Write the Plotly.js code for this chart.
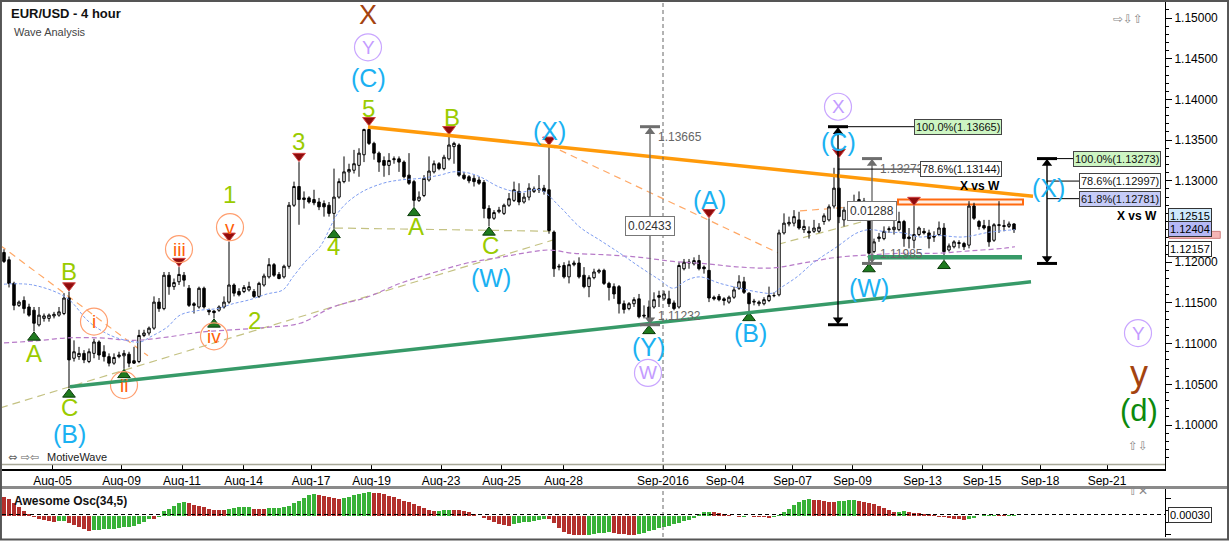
<!DOCTYPE html>
<html><head><meta charset="utf-8">
<script src="https://cdn.plot.ly/plotly-3.0.1.min.js"></script>
<style>html,body{margin:0;padding:0;background:#fff;}#chart{width:1229px;height:541px;}</style>
</head><body><div id="chart"></div>
<script>
// ---------- DATA (EUR/USD 4-hour bars) ----------
const openP = [1.1212,1.1203,1.1174,1.1147,1.1153,1.1145,1.1141,1.1123,1.1131,1.1131,
1.1134,1.1135,1.1137,1.1156,1.1082,1.1084,1.1088,1.1078,1.1088,1.1102,
1.1090,1.1084,1.1076,1.1084,1.1085,1.1087,1.1079,1.1078,1.1110,1.1113,
1.1119,1.1151,1.1143,1.1184,1.1170,1.1176,1.1184,1.1168,1.1149,1.1145,
1.1168,1.1141,1.1140,1.1141,1.1145,1.1151,1.1172,1.1164,1.1164,1.1166,
1.1164,1.1158,1.1172,1.1182,1.1197,1.1185,1.1182,1.1195,1.1270,1.1293,
1.1279,1.1279,1.1277,1.1274,1.1272,1.1270,1.1260,1.1280,1.1299,1.1311,
1.1313,1.1319,1.1332,1.1363,1.1346,1.1334,1.1325,1.1319,1.1326,1.1327,
1.1323,1.1307,1.1299,1.1276,1.1282,1.1301,1.1311,1.1321,1.1315,1.1327,
1.1342,1.1344,1.1307,1.1305,1.1303,1.1301,1.1298,1.1266,1.1254,1.1262,
1.1260,1.1270,1.1276,1.1287,1.1274,1.1280,1.1287,1.1289,1.1291,1.1289,
1.1237,1.1194,1.1196,1.1182,1.1197,1.1199,1.1184,1.1170,1.1181,1.1188,
1.1190,1.1174,1.1170,1.1170,1.1149,1.1143,1.1149,1.1155,1.1135,1.1145,
1.1145,1.1159,1.1155,1.1155,1.1150,1.1145,1.1192,1.1199,1.1198,1.1202,
1.1194,1.1190,1.1157,1.1158,1.1155,1.1151,1.1157,1.1168,1.1176,1.1162,
1.1151,1.1149,1.1149,1.1153,1.1159,1.1160,1.1236,1.1247,1.1248,1.1252,
1.1240,1.1238,1.1238,1.1238,1.1250,1.1252,1.1269,1.1291,1.1252,1.1256,
1.1269,1.1269,1.1275,1.1256,1.1213,1.1229,1.1229,1.1240,1.1240,1.1240,
1.1250,1.1231,1.1227,1.1234,1.1238,1.1236,1.1232,1.1234,1.1242,1.1215,
1.1219,1.1223,1.1223,1.1221,1.1269,1.1250,1.1245,1.1244,1.1227,1.1245,
1.1245,1.1244,1.1247];
const highP = [1.1216,1.1207,1.1176,1.1153,1.1158,1.1149,1.1145,1.1145,1.1137,1.1137,
1.1139,1.1145,1.1162,1.1164,1.1104,1.1096,1.1092,1.1094,1.1106,1.1104,
1.1098,1.1088,1.1088,1.1090,1.1092,1.1090,1.1096,1.1117,1.1117,1.1121,
1.1158,1.1156,1.1188,1.1188,1.1180,1.1194,1.1188,1.1172,1.1151,1.1170,
1.1170,1.1143,1.1141,1.1147,1.1158,1.1225,1.1174,1.1168,1.1172,1.1176,
1.1167,1.1176,1.1186,1.1205,1.1199,1.1188,1.1197,1.1274,1.1299,1.1323,
1.1287,1.1281,1.1289,1.1279,1.1276,1.1274,1.1315,1.1303,1.1330,1.1321,
1.1338,1.1340,1.1364,1.1367,1.1348,1.1336,1.1330,1.1334,1.1330,1.1330,
1.1325,1.1334,1.1301,1.1287,1.1307,1.1330,1.1325,1.1323,1.1332,1.1356,
1.1348,1.1346,1.1311,1.1307,1.1307,1.1305,1.1301,1.1270,1.1264,1.1268,
1.1272,1.1285,1.1299,1.1297,1.1285,1.1297,1.1293,1.1307,1.1295,1.1343,
1.1239,1.1198,1.1200,1.1202,1.1202,1.1206,1.1194,1.1184,1.1192,1.1192,
1.1192,1.1176,1.1174,1.1172,1.1153,1.1151,1.1157,1.1161,1.1147,1.1153,
1.1163,1.1165,1.1165,1.1165,1.1153,1.1200,1.1204,1.1204,1.1206,1.1209,
1.1196,1.1254,1.1159,1.1161,1.1157,1.1159,1.1170,1.1184,1.1182,1.1163,
1.1155,1.1153,1.1157,1.1170,1.1163,1.1240,1.1260,1.1256,1.1264,1.1262,
1.1252,1.1244,1.1252,1.1248,1.1260,1.1271,1.1316,1.1328,1.1268,1.1275,
1.1283,1.1287,1.1279,1.1260,1.1229,1.1236,1.1244,1.1244,1.1252,1.1262,
1.1252,1.1242,1.1269,1.1244,1.1242,1.1240,1.1238,1.1250,1.1248,1.1223,
1.1227,1.1227,1.1225,1.1275,1.1273,1.1252,1.1252,1.1252,1.1248,1.1275,
1.1252,1.1250,1.1248];
const lowP = [1.1199,1.1169,1.1141,1.1145,1.1137,1.1133,1.1115,1.1121,1.1127,1.1127,
1.1131,1.1133,1.1135,1.1045,1.1078,1.1080,1.1076,1.1076,1.1082,1.1080,
1.1078,1.1072,1.1074,1.1082,1.1069,1.1071,1.1075,1.1076,1.1108,1.1110,
1.1117,1.1139,1.1141,1.1160,1.1166,1.1172,1.1170,1.1145,1.1137,1.1143,
1.1143,1.1135,1.1131,1.1139,1.1143,1.1149,1.1158,1.1158,1.1162,1.1164,
1.1156,1.1156,1.1170,1.1180,1.1182,1.1179,1.1180,1.1192,1.1268,1.1246,
1.1266,1.1272,1.1270,1.1264,1.1256,1.1256,1.1241,1.1278,1.1297,1.1299,
1.1309,1.1305,1.1323,1.1344,1.1326,1.1311,1.1305,1.1307,1.1321,1.1311,
1.1303,1.1295,1.1268,1.1274,1.1280,1.1299,1.1309,1.1313,1.1313,1.1325,
1.1321,1.1305,1.1301,1.1297,1.1293,1.1295,1.1254,1.1244,1.1252,1.1260,
1.1258,1.1268,1.1274,1.1270,1.1272,1.1276,1.1285,1.1285,1.1283,1.1235,
1.1182,1.1190,1.1180,1.1174,1.1195,1.1180,1.1168,1.1157,1.1179,1.1186,
1.1172,1.1153,1.1155,1.1137,1.1137,1.1141,1.1145,1.1131,1.1131,1.1123,
1.1143,1.1145,1.1153,1.1145,1.1141,1.1143,1.1190,1.1192,1.1196,1.1190,
1.1186,1.1151,1.1153,1.1152,1.1147,1.1149,1.1155,1.1166,1.1161,1.1139,
1.1147,1.1146,1.1147,1.1151,1.1157,1.1158,1.1234,1.1244,1.1244,1.1240,
1.1236,1.1229,1.1236,1.1236,1.1246,1.1250,1.1266,1.1248,1.1244,1.1254,
1.1266,1.1266,1.1252,1.1199,1.1211,1.1225,1.1227,1.1236,1.1234,1.1238,
1.1219,1.1217,1.1217,1.1232,1.1234,1.1217,1.1225,1.1232,1.1203,1.1213,
1.1217,1.1217,1.1215,1.1217,1.1252,1.1240,1.1240,1.1219,1.1225,1.1236,
1.1238,1.1242,1.1236];
const closeP = [1.1201,1.1174,1.1147,1.1151,1.1143,1.1135,1.1125,1.1135,1.1134,1.1135,
1.1136,1.1139,1.1156,1.1080,1.1090,1.1088,1.1080,1.1090,1.1102,1.1086,
1.1084,1.1076,1.1083,1.1086,1.1088,1.1076,1.1076,1.1110,1.1113,1.1119,
1.1151,1.1143,1.1184,1.1170,1.1175,1.1185,1.1178,1.1147,1.1147,1.1168,
1.1145,1.1139,1.1138,1.1145,1.1151,1.1172,1.1162,1.1160,1.1169,1.1170,
1.1158,1.1174,1.1183,1.1197,1.1184,1.1180,1.1195,1.1270,1.1293,1.1277,
1.1277,1.1274,1.1273,1.1268,1.1268,1.1260,1.1280,1.1299,1.1311,1.1314,
1.1321,1.1334,1.1363,1.1346,1.1334,1.1323,1.1319,1.1325,1.1327,1.1323,
1.1305,1.1297,1.1276,1.1280,1.1303,1.1312,1.1321,1.1315,1.1329,1.1344,
1.1346,1.1307,1.1303,1.1300,1.1299,1.1297,1.1266,1.1254,1.1261,1.1264,
1.1270,1.1278,1.1289,1.1274,1.1280,1.1291,1.1290,1.1290,1.1287,1.1239,
1.1192,1.1195,1.1182,1.1197,1.1199,1.1182,1.1170,1.1181,1.1188,1.1190,
1.1174,1.1169,1.1161,1.1149,1.1142,1.1149,1.1154,1.1133,1.1134,1.1129,
1.1154,1.1157,1.1161,1.1149,1.1143,1.1196,1.1200,1.1200,1.1202,1.1192,
1.1192,1.1156,1.1155,1.1154,1.1153,1.1157,1.1166,1.1176,1.1163,1.1149,
1.1152,1.1151,1.1154,1.1159,1.1159,1.1236,1.1248,1.1249,1.1256,1.1242,
1.1244,1.1236,1.1242,1.1243,1.1257,1.1268,1.1291,1.1256,1.1264,1.1270,
1.1273,1.1277,1.1256,1.1211,1.1225,1.1231,1.1238,1.1241,1.1243,1.1250,
1.1229,1.1229,1.1234,1.1242,1.1236,1.1229,1.1231,1.1242,1.1213,1.1220,
1.1225,1.1224,1.1219,1.1269,1.1254,1.1244,1.1242,1.1225,1.1246,1.1246,
1.1244,1.1247,1.1240];
// Awesome Oscillator (34,5), one value per bar
const aoValues = [0.0039,0.0034,0.0026,0.0018,0.0010,0.0004,-0.0002,-0.0005,-0.0007,-0.0009,
-0.0011,-0.00104,-0.00096,-0.0014,-0.0018,-0.0022,-0.0026,-0.00296,-0.00286,-0.00276,
-0.00268,-0.0026,-0.0025,-0.0024,-0.00228,-0.00212,-0.00192,-0.00168,-0.0012,-0.00056,
-0.00064,-0.00016,0.00094,0.0014,0.00208,0.00256,0.00276,0.00256,0.00228,0.00202,
0.00176,0.00142,0.00128,0.00122,0.0012,0.00142,0.00162,0.00176,0.00188,0.0019,
0.00148,0.00146,0.00144,0.00162,0.00164,0.00166,0.00176,0.00208,0.00256,0.0031,
0.00364,0.00418,0.00444,0.00424,0.00398,0.00378,0.00356,0.00344,0.00364,0.0039,
0.00418,0.00444,0.00458,0.00472,0.00464,0.00458,0.00438,0.0041,0.00378,0.00344,
0.0031,0.00276,0.00242,0.00202,0.00154,0.00122,0.00094,0.001,0.00114,0.00128,
0.00122,0.00114,0.001,0.0008,0.00048,-0.00004,-0.0004,-0.0008,-0.00122,-0.00162,
-0.00188,-0.00196,-0.00168,-0.00148,-0.00128,-0.00114,-0.00094,-0.00074,-0.00054,-0.00068,
-0.00148,-0.00242,-0.0031,-0.0035,-0.0037,-0.00384,-0.00386,-0.0037,-0.00356,-0.00344,
-0.00332,-0.0032,-0.0033,-0.0035,-0.00364,-0.00376,-0.0038,-0.00356,-0.0033,-0.00304,
-0.00276,-0.00248,-0.0022,-0.00192,-0.00164,-0.00136,-0.00104,-0.0007,-0.00036,0.00036,
0.00074,0.0009,0.00084,0.0006,0.0004,0.00016,-0.00004,-0.00024,-0.00016,-0.00008,
-0.00012,-0.0002,-0.00026,-0.00032,-0.0001,0.0003,0.0008,0.0015,0.0022,0.0028,
0.0032,0.00332,0.00324,0.00312,0.003,0.00288,0.0028,0.00292,0.00304,0.00312,
0.00314,0.003,0.00284,0.0026,0.00232,0.00196,0.0016,0.00124,0.00084,0.00088,
0.00092,0.00072,0.00064,0.00056,0.00048,0.00032,0.00016,-0.00012,-0.00028,-0.0004,
-0.00052,-0.00068,-0.00076,-0.0006,-0.0003,0.00006,0.0002,0.00024,0.00026,0.00024,
0.00022,0.00028,0.0003];
// date axis (bar-index position of each label)
const dateTickIdx = [9.7,23.5,35.6,47.9,61.4,73.5,87.4,99.5,111.9,131.8,144.2,157.7,169.7,183.7,195.6,207.2,220.6];
const dateTickText = ['Aug-05','Aug-09','Aug-11','Aug-14','Aug-17','Aug-19','Aug-23','Aug-25','Aug-28','Sep-2016','Sep-04','Sep-07','Sep-09','Sep-13','Sep-15','Sep-18','Sep-21'];
const priceTicks = [1.10,1.105,1.11,1.115,1.12,1.125,1.13,1.135,1.14,1.145,1.15];
// moving averages (read at points)
const maBlueIdx = [0,5.8,12.6,16.6,19.2,22.6,27.2,29.2,32.6,35.2,39.2,42.6,45.8,49.2,52.6,55.8,57.8,60.6,63.2,67.2,71.2,75.8,79.2,83.2,87.2,89.8,92.6,95.2,99.2,103.2,107.2,111.2,115.2,119.2,123.2,127.2,131.2,133.8,136.6,139.2,143.2,147.2,151.2,153.8,155.2,158.6,161.8,166.6,170.6,173.2,176.6,179.8,183.2,186.6,191.8,197.2,202.2];
const maBlue = [1.1173,1.1172,1.1156,1.1129,1.1117,1.1107,1.1102,1.1108,1.1120,1.1135,1.1141,1.1143,1.1149,1.1154,1.1161,1.1166,1.1182,1.1203,1.1219,1.1264,1.1285,1.1297,1.1301,1.1303,1.1307,1.1311,1.1310,1.1305,1.1292,1.1286,1.1289,1.1268,1.1243,1.1227,1.1211,1.1194,1.1178,1.1168,1.1178,1.1182,1.1174,1.1168,1.1163,1.1162,1.1168,1.1182,1.1199,1.1219,1.1236,1.1240,1.1237,1.1236,1.1231,1.1233,1.1231,1.1237,1.1240];
const maPurpleIdx = [0,5.8,12.6,19.2,25.8,32.6,39.2,45.8,52.6,59.2,65.8,72.6,79.2,85.8,92.6,99.2,105.8,109.2,113.8,120.6,127.2,133.8,140.6,147.2,153.8,159.8,166.6,173.2,179.8,186.6,193.2,199.8,202.2];
const maPurple = [1.1101,1.1103,1.1107,1.1107,1.1104,1.1108,1.1114,1.1117,1.1120,1.1125,1.1145,1.1157,1.1174,1.1187,1.1199,1.1206,1.1213,1.1215,1.1211,1.1209,1.1206,1.1201,1.1198,1.1194,1.1193,1.1199,1.1206,1.1209,1.1211,1.1211,1.1214,1.1217,1.1219];
// trend lines: [idx0, price0, idx1, price1]
const resistanceLine = [72.8,1.1366,205.8,1.1281];
const supportLine = [13.2,1.1047,205.4,1.1176];
const supportFlat = [172.8,1.1206,203.6,1.1206];
const khakiLines = [[-0.8,1.1021,110.2,1.1228],[66.2,1.1242,110.2,1.1238],[154.8,1.1222,173.6,1.1253]];
const orangeDashLines = [[-0.8,1.1221,28.8,1.1085],[109,1.1344,155,1.1211],[159.2,1.1263,169.6,1.1268]];
const resistanceZone = [178.8,1.1271,203.8,1.1277];
// pivots
const pivotHighIdx = [13,35,45,59,73,89,109,141,167,182];
const pivotLowIdx = [6,13,24,42,66,82,97,129,149,173,188];
// wave labels
const waveText = ['X','Y','(C)','5','3','1','2','4','A','B','C','(B)','A','B','C','(W)','(X)','(A)','(B)','(Y)','W','X','(C)','(W)','(X)','Y','y','(d)','i','ii','iii','iv','v'];
const waveIdx = [72.8,72.8,72.8,72.8,58.8,45,50,65.8,6,13,13,13,82.4,89.6,97.2,97.4,109,141,149.2,128.8,128.8,166.8,166.8,173,208.8,226.8,227,227,18,24,35,42,45.2];
const wavePrice = [1.1504,1.1464,1.1426,1.1389,1.1348,1.1283,1.1128,1.1219,1.1088,1.1188,1.1022,1.0989,1.1244,1.1378,1.1220,1.1181,1.1361,1.1276,1.1113,1.1096,1.1064,1.1391,1.1348,1.1168,1.1291,1.1113,1.1063,1.1018,1.1127,1.1049,1.1216,1.1109,1.1243];
const waveDegree = ['brown','purple','cyan','lime','lime','lime','lime','lime','lime','lime','lime','cyan','lime','lime','lime','cyan','cyan','cyan','cyan','cyan','purple','purple','cyan','cyan','cyan','purple','brownBig','dgreen','orange','orange','orange','orange','orange'];
// measuring tools
const measureIdx = [129.2,166.8,173.6,208.6];
const measureTop = [1.13665,1.13665,1.13273,1.13273];
const measureBottom = [1.11232,1.11232,1.11985,1.11985];
const measureDelta = ['0.02433','','0.01288',''];
const fibFromIdx = [166.8,166.8,208.6,208.6,208.6];
const fibToIdx = [182,183.2,213.8,215,215];
const fibPrice = [1.13665,1.13144,1.13273,1.12997,1.12781];
const fibText = ['100.0%(1.13665)','78.6%(1.13144)','100.0%(1.13273)','78.6%(1.12997)','61.8%(1.12781)'];
const fibKind = ['full','mid','full','mid','low'];
const lastClose = 1.12404, flagHigh = 1.12515, flagPink = 1.1233, flagLow = 1.12157, aoLast = 0.00030;

// ---------- BUILD ----------
const FONT = 'Liberation Sans, Arial, DejaVu Sans, sans-serif';
const barIdx = openP.map((_, k) => k);
const PX = 1 / 8140; // price per pixel on the main panel
const aoColors = aoValues.map((v, k) => (k > 0 && v > aoValues[k - 1]) ? '#38b238' : '#b3302c');

const traces = [];
traces.push({type:'scatter', mode:'lines', x:maPurpleIdx, y:maPurple, xaxis:'x', yaxis:'y', line:{color:'#b77ac8', width:1.2, dash:'5px,3px', shape:'spline'}, hoverinfo:'skip'});
traces.push({type:'scatter', mode:'lines', x:maBlueIdx, y:maBlue, xaxis:'x', yaxis:'y', line:{color:'#7d9cf0', width:1, dash:'3px,2px', shape:'spline'}, hoverinfo:'skip'});
traces.push({type:'candlestick', x:barIdx, open:openP, high:highP, low:lowP, close:closeP, xaxis:'x', yaxis:'y', whiskerwidth:0,
  increasing:{line:{color:'#000', width:1}, fillcolor:'#ffffff'},
  decreasing:{line:{color:'#000', width:1}, fillcolor:'#000000'}, hoverinfo:'skip'});
traces.push({type:'bar', x:barIdx, y:aoValues, xaxis:'x', yaxis:'y2', width:0.62, marker:{color:aoColors, line:{width:0}}, hoverinfo:'skip'});
// pivot markers
traces.push({type:'scatter', mode:'markers', x:pivotHighIdx, y:pivotHighIdx.map(k => highP[k] + 6 * PX), xaxis:'x', yaxis:'y',
  marker:{symbol:'triangle-down', size:11, color:'#8e0c0c', line:{color:'#d04040', width:1}}, hoverinfo:'skip'});
traces.push({type:'scatter', mode:'markers', x:pivotLowIdx, y:pivotLowIdx.map(k => lowP[k] - 6 * PX), xaxis:'x', yaxis:'y',
  marker:{symbol:'triangle-up', size:11, color:'#1f7a1f', line:{color:'#0a3a0a', width:1}}, hoverinfo:'skip'});

const degreeStyle = {
  brown:{color:'#a4430f', size:27}, brownBig:{color:'#a4430f', size:36},
  purple:{color:'#c49cff', size:19, circle:'#c9a6ff'}, cyan:{color:'#1bb1f2', size:25},
  lime:{color:'#9acb00', size:24}, orange:{color:'#ff5f0a', size:19, circle:'#ff9f70'},
  dgreen:{color:'#0d8a0d', size:31}
};
// circles around wave labels
['purple','orange'].forEach(dg => {
  const ks = waveDegree.map((d, k) => d === dg ? k : -1).filter(k => k >= 0);
  traces.push({type:'scatter', mode:'markers', x:ks.map(k => waveIdx[k]), y:ks.map(k => wavePrice[k]), xaxis:'x', yaxis:'y',
    marker:{symbol:'circle-open', size:27, color:degreeStyle[dg].circle, line:{width:1.2, color:degreeStyle[dg].circle}}, hoverinfo:'skip'});
});

const shapes = [];
const annotations = [];
const seg = (a, color, width, dash, layer) => ({type:'line', xref:'x', yref:'y', x0:a[0], y0:a[1], x1:a[2], y1:a[3], layer:layer || 'above', line:{color, width, dash:dash || 'solid'}});
khakiLines.forEach(a => shapes.push(seg(a, '#c4c283', 1.2, '8px,5px', 'below')));
orangeDashLines.forEach(a => shapes.push(seg(a, '#ffa866', 1.2, '7px,5px', 'below')));
shapes.push({type:'rect', xref:'x', yref:'y', x0:resistanceZone[0], x1:resistanceZone[2], y0:resistanceZone[1], y1:resistanceZone[3], layer:'below', fillcolor:'rgba(255,190,150,0.25)', line:{color:'#ff6a10', width:2}});
shapes.push(seg(resistanceLine, '#ff9a0a', 3.5));
shapes.push(seg(supportLine, '#379a68', 3.5));
shapes.push(seg(supportFlat, '#379a68', 4.5));
// session separator (Sep-2016)
const sepIdx = dateTickIdx[dateTickText.indexOf('Sep-2016')];
shapes.push({type:'line', xref:'x', yref:'y domain', x0:sepIdx, x1:sepIdx, y0:0, y1:1, line:{color:'#666', width:1, dash:'4px,3px'}});
shapes.push({type:'line', xref:'x', yref:'y2 domain', x0:sepIdx, x1:sepIdx, y0:0, y1:1, line:{color:'#666', width:1, dash:'4px,3px'}});
// measuring tools
measureIdx.forEach((xi, k) => {
  const col = (k % 2 === 0) ? '#6e6e6e' : '#000';
  shapes.push({type:'line', xref:'x', yref:'y', x0:xi, x1:xi, y0:measureTop[k], y1:measureBottom[k], line:{color:col, width:1.4}});
  [measureTop[k], measureBottom[k]].forEach(p => shapes.push({type:'line', xref:'x', yref:'y', x0:xi - 2, x1:xi + 2, y0:p, y1:p, line:{color:col, width:3}}));
  traces.push({type:'scatter', mode:'markers', x:[xi, xi], y:[measureTop[k] - 5 * PX, measureBottom[k] + 5 * PX], xaxis:'x', yaxis:'y',
    marker:{symbol:['triangle-up','triangle-down'], size:9, color:col}, hoverinfo:'skip'});
  if (measureDelta[k]) {
    annotations.push({xref:'x', yref:'y', x:xi, y:(measureTop[k] + measureBottom[k]) / 2, text:measureDelta[k], showarrow:false,
      font:{family:FONT, size:12, color:'#333'}, bgcolor:'#fff', bordercolor:'#777', borderwidth:1, borderpad:2});
    annotations.push({xref:'x', yref:'y', x:xi + 1.2, y:measureTop[k], yshift:-10, xanchor:'left', text:measureTop[k].toFixed(5), showarrow:false, font:{family:FONT, size:12, color:'#666'}});
    annotations.push({xref:'x', yref:'y', x:xi + 1.2, y:measureBottom[k], yshift:9, xanchor:'left', text:measureBottom[k].toFixed(5), showarrow:false, font:{family:FONT, size:12, color:'#666'}});
  }
});
const fibBg = {full:'#cdf5c3', mid:'#ffffff', low:'#c6ccf8'};
fibPrice.forEach((p, k) => {
  shapes.push({type:'line', xref:'x', yref:'y', x0:fibFromIdx[k], x1:fibToIdx[k], y0:p, y1:p, line:{color:'#000', width:1}});
  annotations.push({xref:'x', yref:'y', x:fibToIdx[k], y:p, xanchor:'left', text:fibText[k], showarrow:false,
    font:{family:FONT, size:11, color:'#111'}, bgcolor:fibBg[fibKind[k]], bordercolor:'#444', borderwidth:1, borderpad:1});
});
annotations.push({xref:'x', yref:'y', x:195.2, y:1.1294, text:'<b>X vs W</b>', showarrow:false, font:{family:FONT, size:12, color:'#000'}});
annotations.push({xref:'x', yref:'y', x:226.6, y:1.1257, text:'<b>X vs W</b>', showarrow:false, font:{family:FONT, size:12, color:'#000'}});
// wave labels
waveText.forEach((t, k) => {
  const st = degreeStyle[waveDegree[k]];
  annotations.push({xref:'x', yref:'y', x:waveIdx[k], y:wavePrice[k], text:t, showarrow:false, xanchor:'center', yanchor:'middle',
    font:{family:FONT, size:st.size, color:st.color}});
});
// panel frames
shapes.push({type:'line', xref:'paper', yref:'paper', x0:0, x1:1, y0:0.1355, y1:0.1355, line:{color:'#a8a898', width:1.5}});
shapes.push({type:'line', xref:'paper', yref:'paper', x0:-0.003, x1:1.056, y0:0.0925, y1:0.0925, line:{color:'#8a8a8a', width:3}});
shapes.push({type:'line', xref:'paper', yref:'y2', x0:0, x1:1, y0:aoLast, y1:aoLast, line:{color:'#000', width:1, dash:'4px,3px'}});
shapes.push({type:'rect', xref:'paper', yref:'paper', x0:-0.0009, x1:1.0542, y0:-0.0047, y1:1.0019, line:{color:'#555', width:2}});
// pink price flag (label hidden under the last-price flag)
shapes.push({type:'rect', xref:'paper', yref:'y', x0:1.0035, x1:1.0475, y0:flagPink - 3 * PX, y1:flagPink + 4 * PX, fillcolor:'#f5b5b5', line:{color:'#d08080', width:1}});
// right-side price flags
const flag = (p, text, bg, fc, yref, ys) => ({xref:'paper', yref:yref || 'y', x:1, xshift:3, y:p, yshift:ys || 0, xanchor:'left', text, showarrow:false,
  font:{family:FONT, size:11, color:fc || '#000'}, bgcolor:bg, bordercolor:'#333', borderwidth:1, borderpad:1});
annotations.push(flag(flagHigh, flagHigh.toFixed(5), '#cfe9fb', '#000', 'y', 4));
annotations.push(flag(lastClose, lastClose.toFixed(5), '#b5b8f5'));
annotations.push(flag(flagLow, flagLow.toFixed(5), '#ffffff'));
annotations.push(flag(aoLast, aoLast.toFixed(5), '#ffffff', '#000', 'y2'));
// texts
annotations.push({xref:'paper', yref:'paper', x:0.006, y:0.9776, xanchor:'left', yanchor:'middle', text:'<b>EUR/USD - 4 hour</b>', showarrow:false, font:{family:FONT, size:13, color:'#111'}});
annotations.push({xref:'paper', yref:'paper', x:0.0086, y:0.9439, xanchor:'left', yanchor:'middle', text:'Wave Analysis', showarrow:false, font:{family:FONT, size:11, color:'#444'}});
annotations.push({xref:'paper', yref:'paper', x:0.0034, y:0.1495, xanchor:'left', yanchor:'middle', text:'⇔ ⇨⇦', showarrow:false, font:{family:'DejaVu Sans', size:11, color:'#666'}});
annotations.push({xref:'paper', yref:'paper', x:0.037, y:0.1495, xanchor:'left', yanchor:'middle', text:'MotiveWave', showarrow:false, font:{family:FONT, size:11, color:'#222'}});
annotations.push({xref:'paper', yref:'paper', x:0.0086, y:0.0673, xanchor:'left', yanchor:'middle', text:'<b>Awesome Osc(34,5)</b>', showarrow:false, font:{family:FONT, size:12, color:'#111'}});
annotations.push({xref:'paper', yref:'paper', x:0.983, y:0.985, text:'⇨⇩⇧', showarrow:false, font:{family:'DejaVu Sans', size:12, color:'#888'}});
annotations.push({xref:'paper', yref:'paper', x:0.987, y:0.1533, text:'⇧⇩', showarrow:false, font:{family:'DejaVu Sans', size:12, color:'#888'}});
annotations.push({xref:'paper', yref:'paper', x:0.987, y:0.0692, text:'⇧✕', showarrow:false, font:{family:'DejaVu Sans', size:12, color:'#888'}});

const minorVals = [];
for (let v = 1095; v <= 1151; v++) { if (v % 5 !== 0) minorVals.push(v / 1000); }
// a tick label that sits under the price flags is covered in the reference
const flagPrices = [flagHigh, lastClose, flagPink, flagLow];
const priceTickText = priceTicks.map(v => flagPrices.some(f => Math.abs(f - v) < 0.0012) ? '' : v.toFixed(5));

const layout = {
  width:1229, height:541, margin:{l:2, r:64, t:2, b:4},
  paper_bgcolor:'#fff', plot_bgcolor:'#fff', showlegend:false, hovermode:false,
  boxgap:0.3, bargap:0,
  xaxis:{range:[-0.4, 232.2], anchor:'y', tickmode:'array', tickvals:dateTickIdx, ticktext:dateTickText,
    ticks:'inside', ticklen:5, tickcolor:'#000', showline:true, linecolor:'#000', linewidth:1.5, showgrid:false, zeroline:false,
    rangeslider:{visible:false}, tickfont:{family:FONT, size:12, color:'#000'}},
  yaxis:{domain:[0.1271, 1], range:[1.094595, 1.15197], side:'right', anchor:'x', tickmode:'array', tickvals:priceTicks,
    ticktext:priceTickText, ticks:'outside', ticklen:6, tickcolor:'#000', showline:true, linecolor:'#000',
    showgrid:false, zeroline:false, tickfont:{family:FONT, size:12, color:'#000'},
    minor:{tickmode:'array', tickvals:minorVals, ticks:'outside', ticklen:3, tickcolor:'#000'}},
  yaxis2:{domain:[0, 0.0897], range:[-0.0042, 0.0054], side:'right', anchor:'x', showticklabels:false,
    tickmode:'array', tickvals:[-0.0036,-0.0012,0.0012,0.0036], ticks:'outside', ticklen:5, tickcolor:'#000',
    showline:true, linecolor:'#000', showgrid:false, zeroline:false},
  shapes, annotations
};
Plotly.newPlot('chart', traces, layout, {staticPlot:true, displayModeBar:false});
</script></body></html>
